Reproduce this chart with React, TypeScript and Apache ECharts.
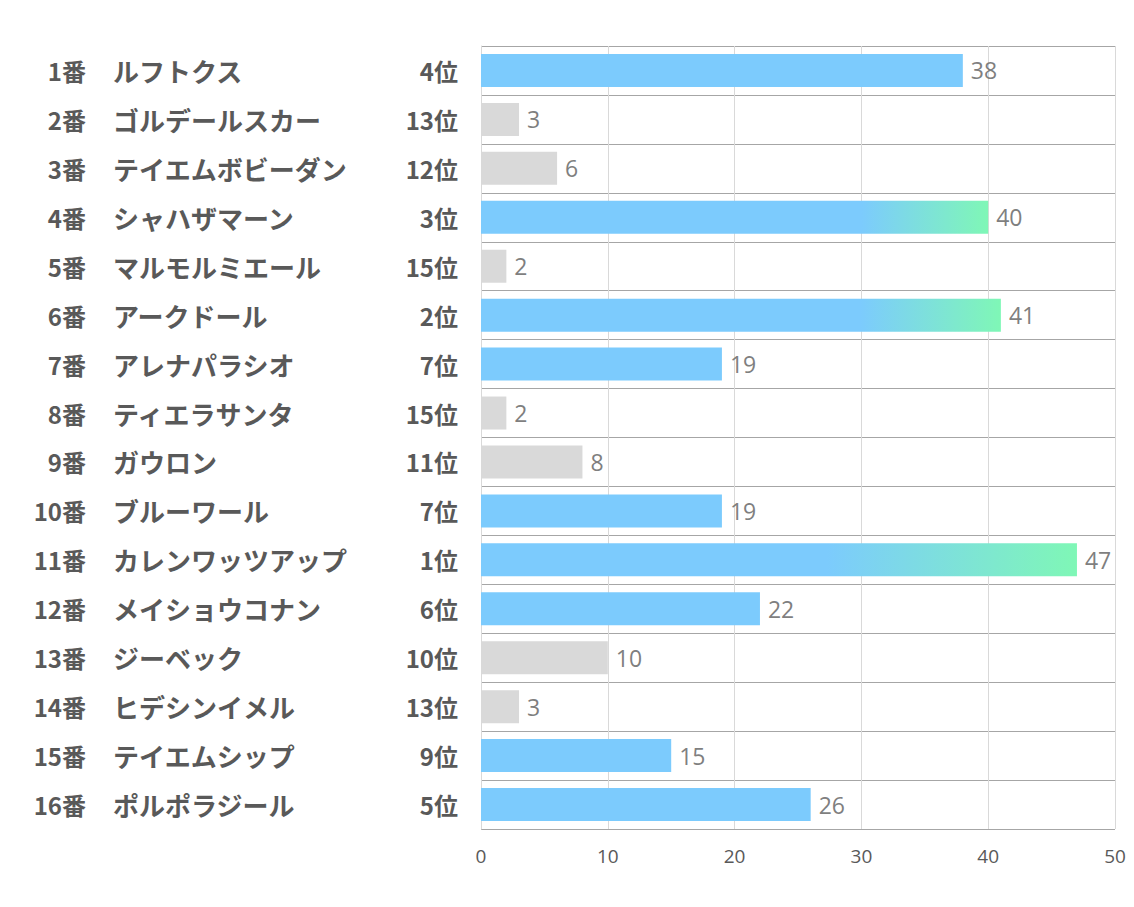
import React, { useEffect, useRef } from "react";
import * as echarts from "echarts";

const numbers = ["1番", "2番", "3番", "4番", "5番", "6番", "7番", "8番", "9番", "10番", "11番", "12番", "13番", "14番", "15番", "16番"];
const horses = ["ルフトクス", "ゴルデールスカー", "テイエムボビーダン", "シャハザマーン", "マルモルミエール", "アークドール", "アレナパラシオ", "ティエラサンタ", "ガウロン", "ブルーワール", "カレンワッツアップ", "メイショウコナン", "ジーベック", "ヒデシンイメル", "テイエムシップ", "ポルポラジール"];
const ranks = [4, 13, 12, 3, 15, 2, 7, 15, 11, 7, 1, 6, 10, 13, 9, 5];
const values = [38, 3, 6, 40, 2, 41, 19, 2, 8, 19, 47, 22, 10, 3, 15, 26];
const xTicks = [0, 10, 20, 30, 40, 50];

const BLUE = "#7ccbfd";
const GREEN = "#7ff7b6";
const GRAY = "#d9d9d9";
const gradStart: Record<number, number> = { 1: 0.58, 2: 0.73, 3: 0.75 };
const labelFont = { fontSize: 24, fontWeight: "bold", color: "#595959", fontFamily: "Noto Sans CJK JP" };

export default function App() {
  const ref = useRef<HTMLDivElement>(null);
  useEffect(() => {
    if (!ref.current) return;
    const chart = echarts.init(ref.current, null, { renderer: "svg" });
    const data = values.map((v, i) => {
      const r = ranks[i];
      let color: any = r <= 9 ? BLUE : GRAY;
      if (gradStart[r] !== undefined) {
        color = new echarts.graphic.LinearGradient(0, 0, 1, 0, [
          { offset: 0, color: BLUE },
          { offset: gradStart[r], color: BLUE },
          { offset: 1, color: GREEN },
        ]);
      }
      return { value: v, itemStyle: { color } };
    });
    const hidden = {
      type: "category" as const,
      inverse: true,
      position: "left" as const,
      axisLine: { show: false },
      axisTick: { show: false },
      splitLine: { show: false },
    };
    chart.setOption({
      animation: false,
      grid: { left: 481, right: 19, top: 46, bottom: 78, containLabel: false },
      xAxis: {
        type: "value",
        min: 0,
        max: 50,
        interval: 10,
        axisLine: { show: false },
        axisTick: { show: false },
        splitLine: { show: true, lineStyle: { color: "#d9d9d9", width: 1 } },
        axisLabel: {
          color: "#595959",
          fontSize: 19,
          fontFamily: "Open Sans",
          margin: 17,
          formatter: (v: number) => (xTicks.includes(v) ? String(v) : ""),
        },
      },
      yAxis: [
        {
          type: "category",
          inverse: true,
          data: ranks.map((r) => `${r}位`),
          axisLine: { show: true, lineStyle: { color: "#d9d9d9" } },
          axisTick: { show: false },
          splitLine: { show: true, lineStyle: { color: "#a6a6a6", width: 1 } },
          axisLabel: { margin: 23, align: "right", ...labelFont },
        },
        {
          ...hidden,
          offset: 345,
          data: horses,
          axisLabel: { margin: 23, align: "left", ...labelFont, fontSize: 26 },
        },
        {
          ...hidden,
          offset: 372,
          data: numbers,
          axisLabel: { margin: 23, align: "right", ...labelFont },
        },
      ],
      series: [
        {
          type: "bar",
          data,
          barWidth: 33,
          yAxisIndex: 0,
          label: {
            show: true,
            position: "right",
            distance: 8,
            color: "#7f7f7f",
            fontSize: 23,
            fontFamily: "Open Sans",
          },
        },
      ],
    });
    return () => chart.dispose();
  }, []);
  return <div ref={ref} style={{ width: 1134, height: 907, position: "absolute", left: 0, top: 0 }} />;
}
